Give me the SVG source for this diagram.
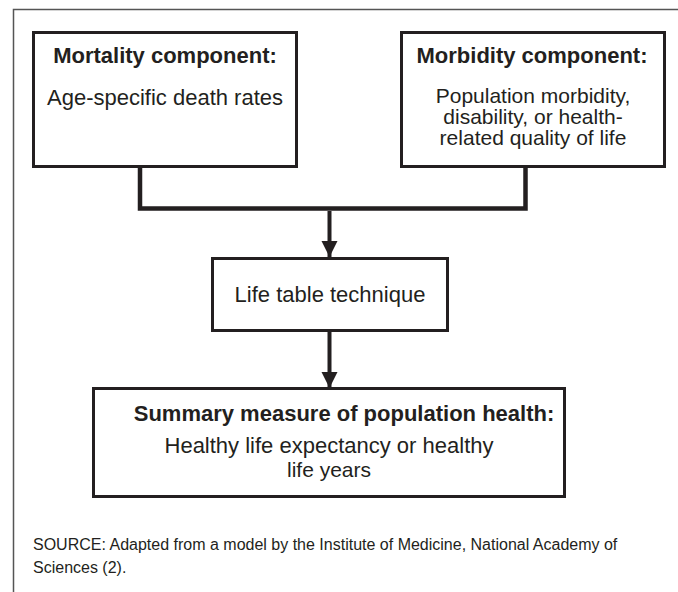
<svg xmlns="http://www.w3.org/2000/svg" width="678" height="592" viewBox="0 0 678 592">
<defs>
<style>
.box{fill:#fff;stroke:#231f20;stroke-width:3}
.t{font-family:"Liberation Sans",Arial,sans-serif;font-size:22px;fill:#231f20;text-anchor:middle}
.b{font-weight:bold}
.m{font-size:21px}
.src{font-family:"Liberation Sans",Arial,sans-serif;font-size:16px;fill:#231f20}
.wire{fill:none;stroke:#231f20;stroke-width:4.5}
.shaft{fill:none;stroke:#231f20;stroke-width:4}
</style>
<marker id="ah" markerUnits="userSpaceOnUse" markerWidth="18" markerHeight="20" refX="16" refY="8" orient="auto" viewBox="0 0 18 16">
<path d="M0,0 L16,8 L0,16 Z" fill="#231f20"/>
</marker>
</defs>
<rect width="678" height="592" fill="#fff"/>
<path d="M13.5,592 V9.5 H678" fill="none" stroke="#555" stroke-width="1.5"/>
<g id="connectors">
<path class="wire" d="M140,167 V208.5 H525.5 V167"/>
<path class="shaft" d="M329.5,211 V257" marker-end="url(#ah)"/>
<path class="shaft" d="M329.5,331 V388" marker-end="url(#ah)"/>
</g>
<g id="mortality">
<rect class="box" x="33.5" y="32.5" width="263" height="134"/>
<text class="t b" x="165" y="63">Mortality component:</text>
<text class="t" x="165" y="105">Age-specific death rates</text>
</g>
<g id="morbidity">
<rect class="box" x="401.5" y="32.5" width="263" height="134"/>
<text class="t b" x="532" y="63">Morbidity component:</text>
<text class="t m" x="533" y="103">Population morbidity,</text>
<text class="t m" x="533" y="124">disability, or health-</text>
<text class="t m" x="533" y="145">related quality of life</text>
</g>
<g id="lifetable">
<rect class="box" x="212.5" y="258.5" width="235" height="72"/>
<text class="t" x="330" y="302">Life table technique</text>
</g>
<g id="summary">
<rect class="box" x="93.5" y="388.5" width="471" height="108"/>
<text class="t b" x="344" y="421">Summary measure of population health:</text>
<text class="t" x="329" y="453">Healthy life expectancy or healthy</text>
<text class="t m" x="329" y="477">life years</text>
</g>
<g id="source">
<text class="src" x="33" y="550">SOURCE: Adapted from a model by the Institute of Medicine, National Academy of</text>
<text class="src" x="33" y="573">Sciences (2).</text>
</g>
</svg>
